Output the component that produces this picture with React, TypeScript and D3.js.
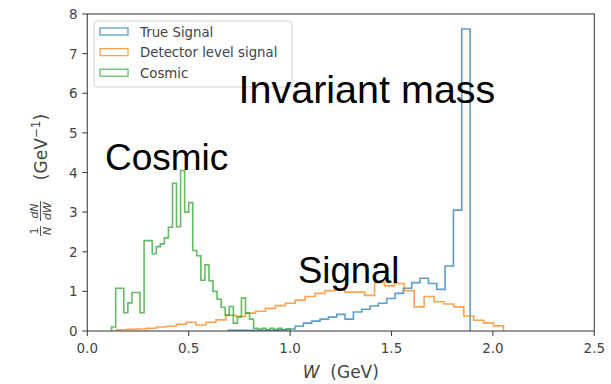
import React from "react";
import * as d3 from "d3";

// Normalised distributions, 1/N dN/dW (GeV^-1), per bin.
// Cosmic background: bins of 0.02 GeV from 0.12 GeV
const cosmicStart = 0.12;
const cosmicWidth = 0.02;
const cosmicValues = [
  0.1, 1.08, 1.08, 0.46, 0.71, 0.97, 0.97, 0.46, 2.28, 2.28, 1.95, 2.13, 2.2,
  2.35, 2.62, 3.73, 2.63, 4.05, 3.0, 3.24, 2.03, 1.9, 1.28, 1.67, 1.27, 1.0,
  0.8, 0.6, 0.4, 0.62, 0.2, 0.35, 0.83, 0.45, 0.3, 0.07, 0.05, 0.07, 0.03,
  0.07, 0.04, 0.07, 0.03, 0.05,
];

// Detector level signal
const detectorStart = 0.145;
const detectorWidth = 0.0489;
const detectorValues = [
  0.03, 0.04, 0.05, 0.07, 0.1, 0.12, 0.17, 0.22, 0.15, 0.22, 0.28, 0.4, 0.37,
  0.45, 0.5, 0.57, 0.64, 0.7, 0.78, 0.87, 0.95, 1.02, 1.05, 0.98, 0.98, 0.9,
  1.22, 1.14, 1.2, 1.02, 0.61, 0.87, 0.74, 0.68, 0.61, 0.38, 0.27, 0.2, 0.13,
];

// True signal
const trueStart = 0.6956;
const trueWidth = 0.0411;
const trueValues = [
  0.02, 0.02, 0.02, 0.02, 0.02, 0.02, 0.03, 0.05, 0.12, 0.2, 0.25, 0.3, 0.35,
  0.42, 0.3, 0.48, 0.55, 0.63, 0.7, 0.82, 0.95, 1.08, 1.22, 1.33, 1.2, 1.05,
  1.64, 3.05, 7.62,
];

const xTicks = [0, 0.5, 1.0, 1.5, 2.0, 2.5];
const yTicks = [0, 1, 2, 3, 4, 5, 6, 7, 8];

const seriesNames = ["True Signal", "Detector level signal", "Cosmic"];
const seriesColors = ["#1f77b4", "#ff7f0e", "#2ca02c"];

const W = 611;
const H = 384;
const left = 87.3;
const right = 594.3;
const top = 14;
const bottom = 331;

const x = d3.scaleLinear().domain([0, 2.5]).range([left, right]);
const y = d3.scaleLinear().domain([0, 8]).range([bottom, top]);

function stepPoints(start: number, width: number, values: number[]) {
  const pts: [number, number][] = [[start, 0]];
  values.forEach((v, i) => {
    pts.push([start + i * width, v]);
    pts.push([start + (i + 1) * width, v]);
  });
  pts.push([start + values.length * width, 0]);
  return pts;
}

const line = d3
  .line<[number, number]>()
  .x((d) => x(d[0]))
  .y((d) => y(d[1]));

const tickFont = "'DejaVu Sans', sans-serif";
const annFont = "'Liberation Sans', Arial, sans-serif";

export default function App() {
  const hists = [
    { pts: stepPoints(trueStart, trueWidth, trueValues), color: seriesColors[0] },
    { pts: stepPoints(detectorStart, detectorWidth, detectorValues), color: seriesColors[1] },
    { pts: stepPoints(cosmicStart, cosmicWidth, cosmicValues), color: seriesColors[2] },
  ];

  return (
    <svg
      width={W}
      height={H}
      style={{ position: "absolute", left: 0, top: 0, background: "#fff" }}
    >
      {/* histograms */}
      {hists.map((h, i) => (
        <path
          key={i}
          d={line(h.pts) || ""}
          fill="none"
          stroke={h.color}
          strokeOpacity={0.72}
          strokeWidth={1.6}
        />
      ))}

      {/* frame */}
      <rect
        x={left}
        y={top}
        width={right - left}
        height={bottom - top}
        fill="none"
        stroke="#444"
        strokeWidth={1.1}
      />

      {/* x ticks */}
      {xTicks.map((t) => (
        <g key={"x" + t}>
          <line x1={x(t)} x2={x(t)} y1={bottom} y2={bottom + 5} stroke="#444" strokeWidth={1.1} />
          <text
            x={x(t)}
            y={353}
            textAnchor="middle"
            fontFamily={tickFont}
            fontSize={13.5}
            fill="#444"
          >
            {t.toFixed(1)}
          </text>
        </g>
      ))}

      {/* y ticks */}
      {yTicks.map((t) => (
        <g key={"y" + t}>
          <line x1={left - 5} x2={left} y1={y(t)} y2={y(t)} stroke="#444" strokeWidth={1.1} />
          <text
            x={77.5}
            y={y(t) + 5}
            textAnchor="end"
            fontFamily={tickFont}
            fontSize={13.5}
            fill="#444"
          >
            {t}
          </text>
        </g>
      ))}

      {/* x label */}
      <text x={340.8} y={378} textAnchor="middle" fontFamily={tickFont} fontSize={17} fill="#444">
        <tspan fontStyle="italic">W</tspan>
        <tspan>{"\u00a0\u00a0(GeV)"}</tspan>
      </text>

      {/* y label */}
      <g transform="translate(41,0) rotate(-90)" fontFamily={tickFont} fill="#444">
        {/* 1/N */}
        <text x={-231} y={-3} textAnchor="middle" fontSize={11}>1</text>
        <line x1={-236} x2={-226} y1={-0.5} y2={-0.5} stroke="#444" strokeWidth={0.9} />
        <text x={-231} y={10} textAnchor="middle" fontSize={11} fontStyle="italic">N</text>
        {/* dN/dW */}
        <text x={-211} y={-3} textAnchor="middle" fontSize={11} fontStyle="italic">dN</text>
        <line x1={-221} x2={-201} y1={-0.5} y2={-0.5} stroke="#444" strokeWidth={0.9} />
        <text x={-211} y={10} textAnchor="middle" fontSize={11} fontStyle="italic">dW</text>
        {/* unit */}
        <text x={-147} y={6} textAnchor="middle" fontSize={17}>
          (GeV
          <tspan fontSize={12} dy={-7}>{"\u22121"}</tspan>
          <tspan dy={7}>)</tspan>
        </text>
      </g>

      {/* legend */}
      <rect x={94} y={21} width={198} height={66} rx={3} fill="#fff" fillOpacity={0.8} stroke="#d0d0d0" strokeWidth={1} />
      {seriesNames.map((name, i) => (
        <g key={name}>
          <rect
            x={100}
            y={28 + i * 20.6}
            width={28}
            height={7}
            fill="none"
            stroke={seriesColors[i]}
            strokeOpacity={0.72}
            strokeWidth={1.3}
          />
          <text x={140} y={36.7 + i * 20.6} fontFamily={tickFont} fontSize={13.3} fill="#444">
            {name}
          </text>
        </g>
      ))}

      {/* annotations */}
      <text x={238.5} y={103} fontFamily={annFont} fontSize={39.5} fill="#000">
        Invariant mass
      </text>
      <text x={105} y={170} fontFamily={annFont} fontSize={37} fill="#000">
        Cosmic
      </text>
      <text x={298} y={283} fontFamily={annFont} fontSize={36.5} fill="#000">
        Signal
      </text>
    </svg>
  );
}
